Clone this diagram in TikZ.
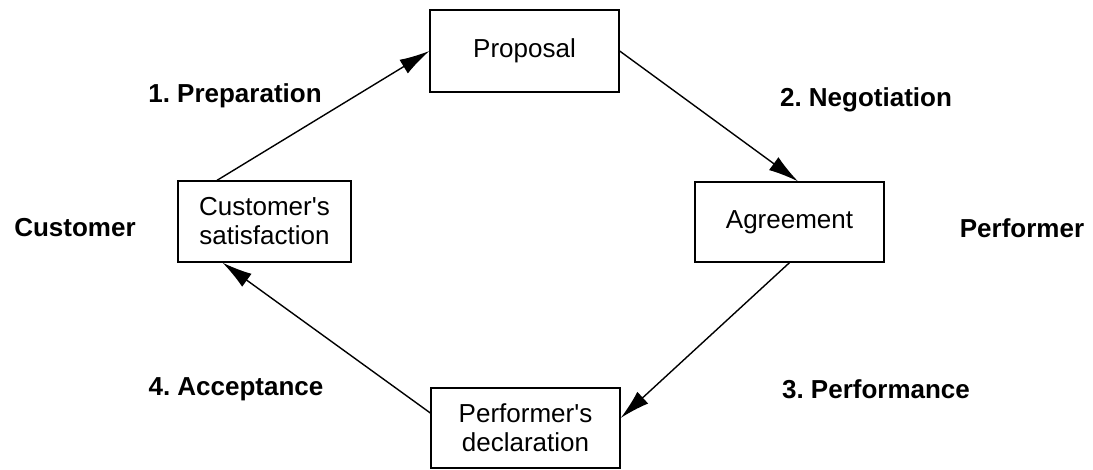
\documentclass[tikz,border=0pt]{standalone}
\usepackage{fontspec}
\setmainfont{Liberation Sans}
\usetikzlibrary{arrows.meta}
\frenchspacing
\begin{document}
\begin{tikzpicture}[x=1pt,y=-1pt,
  box/.style={draw,line width=1.3pt,inner sep=0pt,align=center,
    font=\fontsize{26}{29}\selectfont},
  lbl/.style={font=\fontsize{26}{30}\selectfont\bfseries,inner sep=0pt},
  arr/.style={line width=1.4pt,-{Latex[length=30pt,width=16pt]}}]
\useasboundingbox (0,0) rectangle (1093,469);
% boxes
\node[box,minimum width=189pt,minimum height=82pt] (prop) at (524.5,51) {Proposal};
\node[box,minimum width=189pt,minimum height=80pt] (agr) at (789.5,222) {Agreement};
\node[box,minimum width=173pt,minimum height=81pt] (cust) at (264.5,221.5) {Customer\textquotesingle s\\satisfaction};
\node[box,minimum width=189pt,minimum height=80pt] (decl) at (525.5,428) {Performer\textquotesingle s\\declaration};
% labels
\node[lbl] (l1) at (235,96) {1. Preparation};
\node[lbl] (l2) at (866,100) {2. Negotiation};
\node[lbl] (l3) at (876,389) {3. Performance};
\node[lbl] (l4) at (236,389) {4. Acceptance};
\node[lbl] (lc) at (75,228) {Customer};
\node[lbl] (lp) at (1022,228) {Performer};
% connectors
\draw[arr] ([xshift=-47.5pt]cust.north) -- (prop.west);
\draw[arr] (prop.east) -- ([xshift=8.5pt]agr.north);
\draw[arr] (agr.south) -- ([yshift=10pt]decl.east);
\draw[arr] ([yshift=15pt]decl.west) -- ([xshift=-42pt]cust.south);
\end{tikzpicture}
\end{document}
